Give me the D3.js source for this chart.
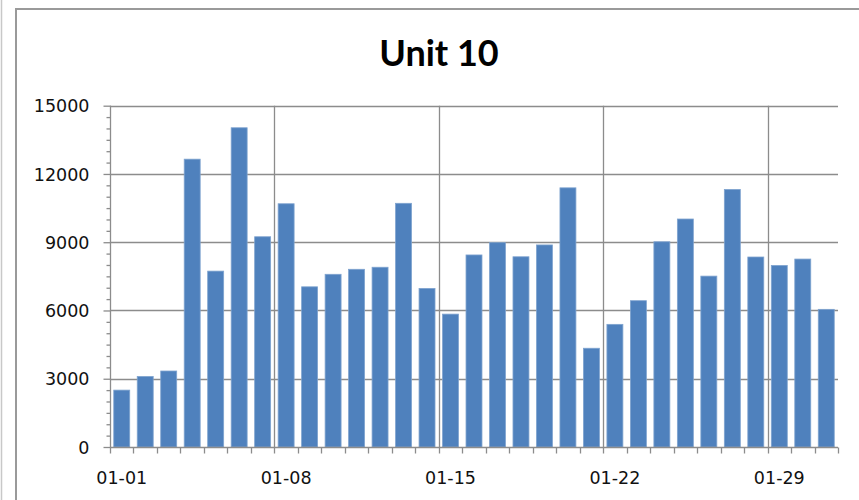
<!DOCTYPE html>
<html>
<head>
<meta charset="utf-8">
<script src="https://cdn.jsdelivr.net/npm/d3@7"></script>
<style>
  body { margin: 0; background: #fff; }
  svg { display: block; }
</style>
</head>
<body>
<div id="chart"></div>
<script>
// data
var days = d3.range(1, 32).map(function(d) { return "01-" + (d < 10 ? "0" + d : d); });
var values = [2500, 3100, 3340, 12650, 7730, 14030, 9240, 10690, 7040, 7590,
              7810, 7900, 10710, 6970, 5840, 8440, 8980, 8360, 8880, 11390,
              4340, 5390, 6430, 9020, 10020, 7510, 11320, 8350, 7980, 8260, 6050];
var yTicks = [0, 3000, 6000, 9000, 12000, 15000];
var xLabels = ["01-01", "01-08", "01-15", "01-22", "01-29"];
var title = "Unit 10";

var W = 859, H = 500;
var plotLeft = 110, plotRight = 838, plotTop = 105.7, plotBottom = 447;

var svg = d3.select("#chart").append("svg")
    .attr("width", W)
    .attr("height", H);

// outer frames
svg.append("line")
    .attr("x1", 1.5).attr("x2", 1.5).attr("y1", 0).attr("y2", H)
    .attr("stroke", "#c8c8c8").attr("stroke-width", 1.5);
svg.append("path")
    .attr("d", "M16," + H + "V9H" + W)
    .attr("fill", "none")
    .attr("stroke", "#9a9a9a")
    .attr("stroke-width", 2);

svg.append("text")
    .attr("x", 439)
    .attr("y", 66)
    .attr("text-anchor", "middle")
    .style("font-family", "Lato, 'Open Sans', sans-serif")
    .style("font-weight", "bold")
    .style("font-size", "36px")
    .attr("fill", "#000")
    .text(title);

var x = d3.scaleBand()
    .domain(days)
    .range([plotLeft, plotRight])
    .paddingInner(0.32)
    .paddingOuter(0.16);

var y = d3.scaleLinear()
    .domain([0, 15000])
    .range([plotBottom, plotTop]);

var gridColor = "#8c8c8c";

// horizontal gridlines
svg.append("g").selectAll("line")
  .data(yTicks.filter(function(d) { return d > 0; }))
  .enter().append("line")
    .attr("x1", plotLeft).attr("x2", plotRight)
    .attr("y1", function(d) { return Math.round(y(d)) + 0.5; })
    .attr("y2", function(d) { return Math.round(y(d)) + 0.5; })
    .attr("stroke", gridColor)
    .attr("stroke-width", 1.3);

// vertical gridlines at week boundaries
svg.append("g").selectAll("line")
  .data(xLabels.slice(1))
  .enter().append("line")
    .attr("x1", function(d) { return Math.round(x(d) - x.step() * x.paddingInner() / 2) + 0.5; })
    .attr("x2", function(d) { return Math.round(x(d) - x.step() * x.paddingInner() / 2) + 0.5; })
    .attr("y1", plotTop).attr("y2", plotBottom)
    .attr("stroke", gridColor)
    .attr("stroke-width", 1.3);

// bars
svg.append("g").selectAll("rect")
  .data(values)
  .enter().append("rect")
    .attr("x", function(d, i) { return x(days[i]); })
    .attr("width", x.bandwidth())
    .attr("y", function(d) { return y(d); })
    .attr("height", function(d) { return plotBottom - y(d); })
    .attr("fill", "#4f81bd")
    .attr("stroke", "#7fa3cf")
    .attr("stroke-width", 0.8);

// y axis with minor ticks
var yAxis = svg.append("g")
    .attr("transform", "translate(" + (plotLeft + 0.5) + ",0)")
    .call(d3.axisLeft(y).tickValues(d3.range(0, 15001, 500)).tickSize(4).tickFormat(""));
yAxis.selectAll(".tick line")
    .attr("x2", function(d) { return d % 3000 === 0 ? -7 : -4; });
yAxis.selectAll(".tick text")
    .attr("x", -21)
    .text(function(d) { return yTicks.indexOf(d) >= 0 ? d : ""; });
yAxis.select(".domain").attr("d", "M0," + plotTop + "V" + plotBottom);

// x axis: ticks at every day boundary, labels weekly
var boundaries = d3.range(0, days.length + 1);
var xAxis = svg.append("g").attr("transform", "translate(0," + (plotBottom + 0.5) + ")");
xAxis.append("line")
    .attr("x1", plotLeft).attr("x2", plotRight)
    .attr("stroke", gridColor).attr("stroke-width", 1.3);
xAxis.selectAll(".tk")
  .data(boundaries)
  .enter().append("line")
    .attr("class", "tk")
    .attr("x1", function(d) { return Math.round(plotLeft + d * x.step()) + 0.5; })
    .attr("x2", function(d) { return Math.round(plotLeft + d * x.step()) + 0.5; })
    .attr("y1", 0).attr("y2", 6)
    .attr("stroke", gridColor).attr("stroke-width", 1.3);
xAxis.selectAll("text")
  .data(xLabels)
  .enter().append("text")
    .attr("x", function(d) { return x(d) + x.bandwidth() / 2; })
    .attr("y", 36)
    .attr("text-anchor", "middle")
    .text(function(d) { return d; });

svg.selectAll(".domain").attr("stroke", gridColor).attr("stroke-width", 1.3);
yAxis.selectAll(".tick line").attr("stroke", gridColor).attr("stroke-width", 1.3);
svg.selectAll("g text")
    .style("font-family", "'DejaVu Sans', Verdana, sans-serif")
    .style("font-size", "17.5px")
    .attr("fill", "#111");
yAxis.selectAll(".tick text").attr("dy", "0.35em");
</script>
</body>
</html>
